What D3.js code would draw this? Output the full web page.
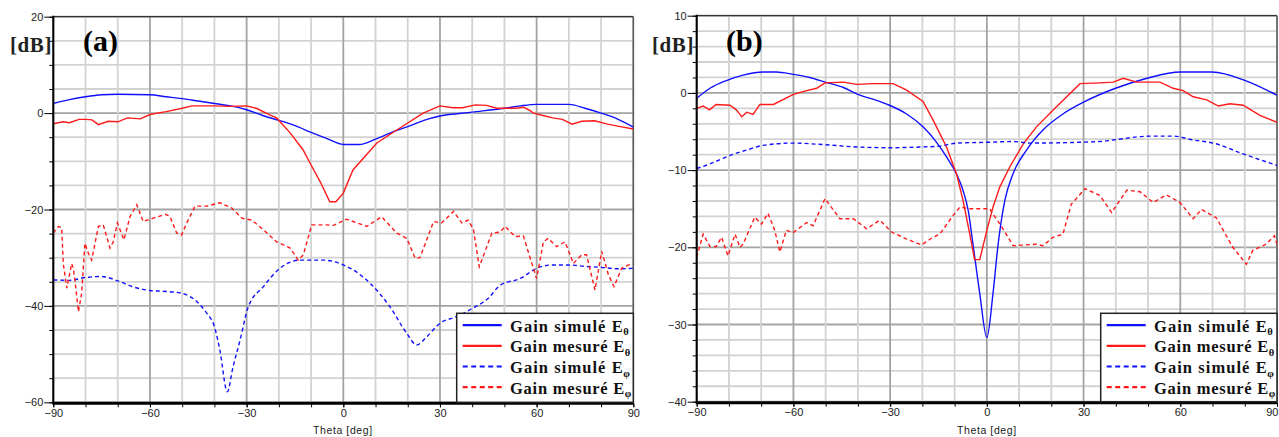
<!DOCTYPE html>
<html><head><meta charset="utf-8">
<script src="https://cdn.jsdelivr.net/npm/d3@7"></script>
<style>
html,body{margin:0;padding:0;background:#fff;}
svg{display:block;}
</style></head>
<body>
<svg id="chart" width="1279" height="437"></svg>
<script>
// ---------- DATA ----------
const thetaTicks = [-90, -60, -30, 0, 30, 60, 90];
const aYTicks = [20, 0, -20, -40, -60];
const bYTicks = [10, 0, -10, -20, -30, -40];
const legendLabels = ["Gain simulé E", "Gain mesuré E", "Gain simulé E", "Gain mesuré E"];
const legendSubs = ["θ", "θ", "φ", "φ"];

// Panel (a) : [theta (deg), gain (dB)]
const aSimTheta = [[-90,2],[-85,2.8],[-80,3.4],[-75,3.8],[-70,3.9],[-60,3.8],[-55,3.4],[-50,3],[-45,2.5],[-40,2],[-35,1.5],[-30,0.7],[-25,-0.5],[-20,-1.5],[-15,-2.6],[-10,-4],[-5,-5.3],[0,-6.5],[5,-6.5],[10,-5.4],[15,-4],[20,-2.8],[25,-1.5],[30,-0.6],[40,0.2],[50,1],[55,1.5],[60,1.8],[65,1.8],[70,1.8],[75,1.0],[80,0],[85,-1.2],[90,-2.9]];
const aMesTheta = [[-90,-2.2],[-87,-1.8],[-85,-2],[-82,-1.3],[-80,-1.3],[-78,-1.4],[-76,-2.4],[-73,-1.7],[-70,-1.8],[-67,-1.0],[-63,-1.2],[-60,-0.3],[-55,0.3],[-50,1.0],[-47,1.5],[-40,1.5],[-35,1.4],[-30,1.5],[-27,1.0],[-23,-0.3],[-20.7,-1.0],[-16.5,-4.1],[-12.5,-7.6],[-10.3,-10.4],[-7.2,-14.2],[-4.2,-18.4],[-2.3,-18.4],[0,-16.6],[3,-11.8],[10.4,-6.2],[16.6,-3.5],[24.8,0],[30,1.5],[34,1.1],[37,1.1],[41,1.7],[44.5,1.6],[47.6,1.0],[50.7,1.0],[53.8,1.0],[56,1.2],[58,0.5],[59,0],[62,-0.5],[65,-1.0],[68,-1.3],[71,-2.3],[74,-1.7],[78,-1.6],[82,-2.3],[86,-2.8],[90,-3.3]];
const aSimPhi = [[-90,-34.6],[-85,-34.7],[-80,-34.1],[-75,-33.9],[-70,-34.8],[-65,-36.1],[-60,-36.8],[-55,-37],[-50,-37.4],[-45,-39.4],[-42.4,-41.5],[-40,-44.3],[-38.3,-49.2],[-36,-57.8],[-34.2,-52.6],[-32,-47],[-29.5,-40.2],[-24.8,-36],[-20.7,-32.8],[-13.4,-30.5],[-6.2,-30.5],[0,-31.5],[3,-32.5],[8.3,-35.3],[14.5,-40.2],[19.7,-45.7],[22.8,-48.1],[25.9,-46.4],[30,-43.6],[35.2,-42.2],[39.3,-40.8],[45,-38.4],[48.7,-35.7],[55,-34.3],[60,-32.2],[65,-31.5],[70,-31.5],[75,-31.8],[80,-32],[85,-32.3],[90,-32.2]];
const aMesPhi = [[-90,-24.9],[-88.4,-23.5],[-87.4,-23.8],[-86.9,-31.2],[-85.8,-36.3],[-84.3,-31.2],[-83.8,-32.2],[-83.3,-34.6],[-82.2,-41.2],[-81.2,-37.4],[-80.2,-27],[-79.1,-29.1],[-78.1,-30.5],[-76,-23.5],[-74.5,-23.2],[-72.4,-28],[-71.4,-26.7],[-70.1,-22.8],[-68.1,-26.3],[-66.2,-21.5],[-64.1,-19],[-62.1,-22.5],[-59,-21.8],[-55.3,-21],[-53.8,-21.4],[-51.7,-24.9],[-50.2,-25.3],[-48.6,-22.8],[-46,-19.3],[-42.4,-19.3],[-38.3,-18.6],[-34.6,-19.7],[-31.5,-21.8],[-28.4,-22.2],[-24.8,-24.2],[-20.7,-26.7],[-16.5,-28],[-14,-30.5],[-12.4,-29.4],[-9.8,-23.2],[-5.1,-23.2],[-3.1,-23.3],[1,-22],[7.3,-23.5],[11.9,-21.5],[16.6,-24.9],[19.7,-26],[22.3,-30.1],[23.8,-30],[28,-22.5],[30.5,-22.8],[34.2,-20.4],[36.8,-22.8],[38.8,-22.2],[40.4,-24.2],[42.2,-31.9],[46.1,-24.9],[48.7,-24.7],[50.2,-23.5],[53.3,-25.6],[55.9,-25.5],[58,-30.1],[60,-34.3],[62.1,-26.7],[63.6,-26],[66.2,-27.7],[68.8,-26.7],[71.4,-31.2],[74,-29.4],[75.5,-29.4],[78.1,-36.7],[80.2,-28.7],[82.3,-33.6],[84,-36],[86.4,-32.2],[89.5,-31.2]];

// Panel (b)
const bSimTheta = [[-90,-0.7],[-85.9,0.6],[-80.8,1.6],[-75.6,2.3],[-69.4,2.7],[-65.3,2.7],[-60,2.4],[-54.9,2],[-50.2,1.4],[-44.5,0.7],[-39.4,-0.3],[-34.7,-0.9],[-30.2,-1.6],[-25,-2.7],[-19.8,-4.4],[-15.6,-6.4],[-12.5,-8.3],[-9.4,-10.5],[-7.4,-12.6],[-5.8,-15.2],[-4.3,-19.6],[-2.2,-26],[0,-31.7],[1.9,-26],[3.5,-19.6],[5.6,-13.9],[8.1,-10.5],[12.3,-7.4],[17.4,-4.8],[23.7,-2.7],[30,-1.2],[39.9,0.6],[49.7,1.9],[60,2.7],[69.8,2.7],[80.2,1.6],[90,-0.3]];
const bMesTheta = [[-90,-2],[-88,-1.7],[-86,-2.2],[-84,-1.5],[-79.7,-1.6],[-77.7,-2.2],[-76,-3.1],[-74.5,-2.5],[-72.5,-2.8],[-70.4,-1.5],[-66.2,-1.5],[-60,-0.2],[-55.9,0.3],[-52.8,0.6],[-50.2,1.3],[-44.5,1.4],[-40.4,1.1],[-35.3,1.2],[-29.1,1.2],[-25,0.4],[-19.8,-1.1],[-16.7,-3.5],[-12.5,-7],[-9.4,-10.5],[-7.4,-13.9],[-5.3,-18.3],[-3.8,-21.6],[-2.2,-21.6],[0,-17.8],[1.9,-14.8],[4,-12.2],[7.1,-9.6],[11.3,-6.6],[15.4,-4.4],[21.6,-1.8],[28.9,1.2],[35.1,1.3],[39.2,1.4],[42.3,1.9],[46.5,1.4],[53.7,1.4],[57.8,0.6],[60.9,0.3],[64,-0.5],[68.2,-0.9],[71.8,-1.7],[75.4,-1.4],[79.5,-1.6],[84.7,-2.9],[90,-3.8]];
const bSimPhi = [[-90,-9.8],[-85.9,-9.2],[-79.7,-8.1],[-74.5,-7.4],[-69.4,-6.8],[-60,-6.5],[-50.7,-6.7],[-40.4,-7],[-30.2,-7.1],[-19.8,-7],[-14.6,-6.9],[-9.4,-6.5],[0,-6.4],[8.1,-6.3],[13.3,-6.5],[35.1,-6.3],[39.2,-6.1],[50.6,-5.6],[57.8,-5.6],[64,-6.1],[70.2,-6.5],[79.5,-7.9],[90,-9.4]];
const bMesPhi = [[-90,-21.3],[-88,-18.3],[-85.9,-19.9],[-83.9,-19.9],[-82.3,-18.7],[-80.3,-21.1],[-78.1,-18.3],[-76.6,-20],[-75.6,-19.6],[-72,-16.1],[-69.9,-17],[-67.9,-15.6],[-65.8,-17.8],[-64.2,-20.6],[-62.2,-17.8],[-60.1,-18.1],[-55.9,-16.8],[-53.9,-17.2],[-50.2,-13.7],[-45.6,-16.3],[-41.4,-16.3],[-37.3,-17.6],[-33.2,-16.5],[-29.6,-18],[-25,-18.9],[-20.3,-19.7],[-16.7,-18.7],[-14.6,-18.3],[-10.5,-15.9],[-8.4,-14.8],[-5.3,-15],[0.9,-15],[1.9,-15.7],[4.1,-17],[8.2,-19.8],[15.4,-19.6],[17.4,-19.8],[20.5,-18.7],[23.6,-18.3],[26.2,-14.4],[30.5,-12.4],[35.1,-13.3],[38.7,-15.5],[43.4,-12.6],[47.5,-12.8],[51.6,-14.2],[55.7,-13.2],[59.9,-14.2],[64,-16.3],[66.6,-15.1],[71.2,-16.2],[76.3,-20],[80.5,-22.2],[82.5,-20.4],[86.6,-19.6],[89.2,-18.5],[90,-19.6]];

// ---------- DRAW ----------
const svg = d3.select("#chart");
const BLUE = "#1010ff", RED = "#ff1a1a";

const panels = [
  {id:"a", label:"(a)", x0:53.3, x1:633.3, y0:16.7, y1:402.3, dom:[-60,20], step:5, major:20, ticks:aYTicks,
   series:[aSimTheta, aMesTheta, aSimPhi, aMesPhi], labelX:83, dbX:10, thetaX:313, legendX:456.7},
  {id:"b", label:"(b)", x0:696.7, x1:1277, y0:15.7, y1:401.7, dom:[-40,10], step:2, major:10, ticks:bYTicks,
   series:[bSimTheta, bMesTheta, bSimPhi, bMesPhi], labelX:726, dbX:652, thetaX:957, legendX:1100.7}
];
const styles = [
  {color:BLUE, dash:null, smooth:true},
  {color:RED, dash:null, smooth:false},
  {color:BLUE, dash:"4,3", smooth:true},
  {color:RED, dash:"4,3", smooth:false}
];
const legendWidths = [112.7, 114.3, 112.7, 114.3];

panels.forEach(p => {
  const x = d3.scaleLinear().domain([-90, 90]).range([p.x0, p.x1]);
  const y = d3.scaleLinear().domain(p.dom).range([p.y1, p.y0]);
  const g = svg.append("g");

  // grid
  const yGrid = d3.range(p.dom[0], p.dom[1] + 0.001, p.step);
  const xGrid = d3.range(-90, 90.001, 10);
  g.selectAll(".gy").data(yGrid).enter().append("line")
    .attr("x1", p.x0).attr("x2", p.x1).attr("y1", d => y(d)).attr("y2", d => y(d))
    .attr("stroke", d => (Math.abs(d % p.major) < 1e-6) ? "#a3a3a3" : "#d2d2d2")
    .attr("stroke-width", 1.8);
  g.selectAll(".gx").data(xGrid).enter().append("line")
    .attr("y1", p.y0).attr("y2", p.y1).attr("x1", d => x(d)).attr("x2", d => x(d))
    .attr("stroke", d => (Math.abs(d % 30) < 1e-6) ? "#a3a3a3" : "#d2d2d2")
    .attr("stroke-width", 1.8);

  // top/right frame
  g.append("line").attr("x1", p.x0).attr("x2", p.x1).attr("y1", p.y0).attr("y2", p.y0)
    .attr("stroke", "#333").attr("stroke-width", 1.3);
  g.append("line").attr("x1", p.x1).attr("x2", p.x1).attr("y1", p.y0).attr("y2", p.y1)
    .attr("stroke", "#555").attr("stroke-width", 1.3);

  // curves
  const clipId = "clip" + p.id;
  svg.append("clipPath").attr("id", clipId).append("rect")
    .attr("x", p.x0).attr("y", p.y0).attr("width", p.x1 - p.x0).attr("height", p.y1 - p.y0);
  p.series.forEach((s, i) => {
    const st = styles[i];
    const line = d3.line().x(d => x(d[0])).y(d => y(d[1]))
      .curve(st.smooth ? d3.curveMonotoneX : d3.curveLinear);
    g.append("path").datum(s).attr("d", line).attr("fill", "none")
      .attr("stroke", st.color).attr("stroke-width", 1.4)
      .attr("stroke-dasharray", st.dash).attr("clip-path", `url(#${clipId})`);
  });

  // left axis: minor ticks
  const yAxisMinor = d3.axisLeft(y).tickValues(yGrid).tickSize(4).tickFormat("");
  const ya = g.append("g").attr("transform", `translate(${p.x0},0)`).call(yAxisMinor);
  ya.select(".domain").remove();
  ya.selectAll("line").attr("stroke", "#000").attr("stroke-width", 1);
  const yAxisMajor = d3.axisLeft(y).tickValues(p.ticks).tickSize(9).tickPadding(1).tickFormat(d3.format("d"));
  const yb = g.append("g").attr("transform", `translate(${p.x0},0)`).call(yAxisMajor);
  yb.select(".domain").remove();
  yb.selectAll("line").attr("stroke", "#000").attr("stroke-width", 1);
  yb.selectAll("text").attr("font-family", "Arial, 'Liberation Sans', sans-serif")
    .attr("font-size", 11).attr("fill", "#222");
  g.append("line").attr("x1", p.x0).attr("x2", p.x0).attr("y1", p.y0 - 1).attr("y2", p.y1 + 1)
    .attr("stroke", "#000").attr("stroke-width", 2);

  // bottom axis
  const xAxisMinor = d3.axisBottom(x).tickValues(xGrid).tickSize(4).tickFormat("");
  const xa = g.append("g").attr("transform", `translate(0,${p.y1 + 1})`).call(xAxisMinor);
  xa.select(".domain").remove();
  xa.selectAll("line").attr("stroke", "#000").attr("stroke-width", 1);
  const xAxisMajor = d3.axisBottom(x).tickValues(thetaTicks).tickSize(4).tickPadding(2).tickFormat(d3.format("d"));
  const xb = g.append("g").attr("transform", `translate(0,${p.y1 + 1})`).call(xAxisMajor);
  xb.select(".domain").remove();
  xb.selectAll("line").attr("stroke", "#000");
  xb.selectAll("text").attr("font-family", "Arial, 'Liberation Sans', sans-serif")
    .attr("font-size", 11).attr("fill", "#222");
  // keep the last label inside the page
  xb.selectAll(".tick").filter(d => x(d) > 1270).select("text")
    .attr("text-anchor", "end").attr("x", 1278 - p.x1);
  g.append("line").attr("x1", p.x0 - 1).attr("x2", p.x1).attr("y1", p.y1 + 1).attr("y2", p.y1 + 1)
    .attr("stroke", "#000").attr("stroke-width", 3);

  g.append("text").attr("x", p.thetaX).attr("y", 433.5).text("Theta [deg]")
    .attr("font-family", "Arial, 'Liberation Sans', sans-serif").attr("font-size", 10.5)
    .attr("letter-spacing", 0.6).attr("fill", "#222");

  // labels
  g.append("text").attr("x", p.dbX).attr("y", 52).text("[dB]")
    .attr("font-family", "'Liberation Serif', 'Times New Roman', serif").attr("font-weight", "bold")
    .attr("font-size", 21).attr("letter-spacing", 0.6).attr("fill", "#222");
  g.append("text").attr("x", p.labelX).attr("y", 51).text(p.label)
    .attr("font-family", "'Liberation Serif', 'Times New Roman', serif").attr("font-weight", "bold")
    .attr("font-size", 30).attr("fill", "#000");

  // legend
  const lx = p.legendX, ly = 313.3;
  const lg = g.append("g");
  lg.append("rect").attr("x", lx).attr("y", ly).attr("width", p.x1 - lx).attr("height", p.y1 - ly)
    .attr("fill", "#fff").attr("stroke", "#222").attr("stroke-width", 1.5);
  legendLabels.forEach((lab, i) => {
    const st = styles[i];
    const base = ly + 18.4 + i * 20.65;
    lg.append("line").attr("x1", lx + 6).attr("x2", lx + 45).attr("y1", base - 6.5).attr("y2", base - 6.5)
      .attr("stroke", st.color).attr("stroke-width", 2.2).attr("stroke-dasharray", st.dash ? "5,3.5" : null);
    lg.append("text").attr("x", lx + 53.3).attr("y", base)
      .attr("font-family", "'Liberation Serif', 'Times New Roman', serif").attr("font-weight", "bold")
      .attr("font-size", 16.5).attr("textLength", legendWidths[i]).attr("lengthAdjust", "spacing")
      .attr("fill", "#111").text(lab);
    lg.append("text").attr("x", lx + 53.3 + legendWidths[i] + 0.5).attr("y", base + 3.5)
      .attr("font-family", "'Liberation Serif', 'Times New Roman', serif").attr("font-weight", "bold")
      .attr("font-size", 10.5).attr("fill", "#111").text(legendSubs[i]);
  });
});
</script>
</body></html>
